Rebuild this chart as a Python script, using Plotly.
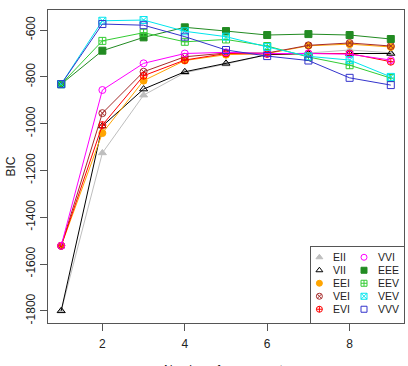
import plotly.graph_objects as go

G = [1, 2, 3, 4, 5, 6, 7, 8, 9]
models = ["EII", "VII", "EEI", "VEI", "EVI", "VVI", "EEE", "EEV", "VEV", "VVV"]

bic_EII = [-1800, -1125, -878, -782, -745, -705, -698, -685, -697]
bic_VII = [-1800, -1010, -852, -778, -742, -705, -700, -700, -700]
bic_EEI = [-1522, -1040, -816, -730, -705, -700, -667, -660, -672]
bic_VEI = [-1522, -955, -778, -714, -698, -698, -665, -655, -668]
bic_EVI = [-1522, -1006, -795, -728, -700, -702, -700, -700, -735]
bic_VVI = [-1522, -856, -742, -700, -695, -700, -700, -703, -728]
bic_EEE = [-831, -688, -631, -588, -604, -621, -617, -621, -638]
bic_EEV = [-831, -646, -611, -650, -640, -668, -715, -750, -805]
bic_VEV = [-831, -560, -557, -605, -628, -672, -712, -728, -800]
bic_VVV = [-831, -574, -579, -628, -685, -711, -730, -804, -835]

series = [bic_EII, bic_VII, bic_EEI, bic_VEI, bic_EVI, bic_VVI, bic_EEE, bic_EEV, bic_VEV, bic_VVV]
colors = ["#bebebe", "#000000", "#ffa500", "#a52a2a", "#ff0000", "#ff00ff",
          "#228b22", "#33cc33", "#00e5ee", "#3333cc"]
symbols = ["triangle-up", "triangle-up-open", "circle", "circle-x-open", "circle-cross-open",
           "circle-open", "square", "square-cross-open", "square-x-open", "square-open"]
xticks = [2, 4, 6, 8]
yticks = [-1800, -1600, -1400, -1200, -1000, -800, -600]
ytick_labels = [str(v) for v in yticks]

fig = go.Figure()
for name, vals, c, s in zip(models, series, colors, symbols):
    fig.add_trace(go.Scatter(
        x=G, y=vals, mode="lines+markers", name=name, showlegend=False,
        line=dict(color=c, width=1),
        marker=dict(symbol=s, color=c, size=7, line=dict(color=c, width=1)),
    ))

# legend (two columns of five) drawn on a small inset axis
col_x = [0.09, 0.57]
txt_dx = 0.14
row_top, row_step = 0.865, 0.171
for i, (name, c, s) in enumerate(zip(models, colors, symbols)):
    col, row = divmod(i, 5)
    fig.add_trace(go.Scatter(
        x=[col_x[col]], y=[row_top - row * row_step], mode="markers",
        xaxis="x2", yaxis="y2", showlegend=False, hoverinfo="skip",
        marker=dict(symbol=s, color=c, size=6, line=dict(color=c, width=1)),
    ))
    fig.add_annotation(x=col_x[col] + txt_dx, y=row_top - row * row_step, xref="x2", yref="y2",
                       text=name, showarrow=False, xanchor="left", yanchor="middle",
                       borderpad=0, font=dict(size=10.5, color="#222"))

axis_common = dict(showgrid=False, zeroline=False, showline=True, mirror=True,
                   linecolor="#555", linewidth=1, ticks="outside", ticklen=7,
                   tickcolor="#555", tickfont=dict(size=12, color="#222"))

fig.update_layout(
    width=408, height=366,
    margin=dict(l=48, r=4, t=10, b=43),
    paper_bgcolor="white", plot_bgcolor="white",
    font=dict(family="Liberation Sans, Arial, sans-serif", color="#222"),
    xaxis=dict(range=[0.68, 9.32], tickvals=xticks, ticklabelstandoff=3, **axis_common),
    yaxis=dict(range=[-1852, -514], tickvals=yticks, ticktext=ytick_labels, tickangle=-90,
               title=dict(text="BIC", font=dict(size=12, color="#222"), standoff=6),
               **axis_common),
    xaxis2=dict(domain=[0.7388, 1.0], range=[0, 1], anchor="y2", showgrid=False, zeroline=False,
                showline=True, mirror=True, linecolor="#555", showticklabels=False, ticks=""),
    yaxis2=dict(domain=[0.0, 0.2428], range=[0, 1], anchor="x2", showgrid=False, zeroline=False,
                showline=True, mirror=True, linecolor="#555", showticklabels=False, ticks=""),
    showlegend=False,
)
fig.add_annotation(x=0.5, y=0, xref="paper", yref="paper", yshift=-38, yanchor="top",
                   text="Number of components", showarrow=False,
                   font=dict(size=12, color="#222"))

fig.write_html("out.html")
